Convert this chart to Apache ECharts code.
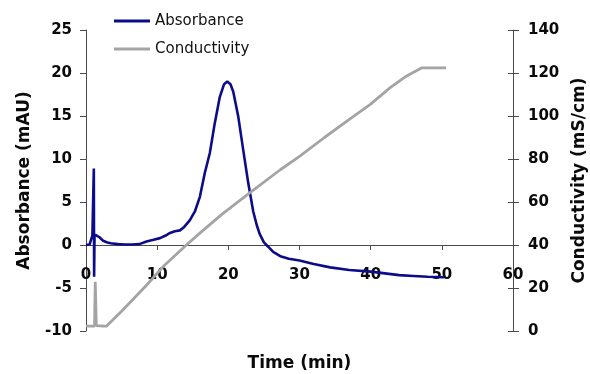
<!DOCTYPE html>
<html>
<head>
<meta charset="utf-8">
<script src="https://cdn.jsdelivr.net/npm/echarts@6/dist/echarts.min.js"></script>
<style>
html,body{margin:0;padding:0;background:#fff;}
#chart{width:590px;height:374px;}
</style>
</head>
<body>
<div id="chart"></div>
<script>
// Absorbance trace (time in min, absorbance in mAU)
var absTime = [0, 0.5, 0.7, 0.9, 1.05, 1.1, 1.14, 1.2, 1.5, 1.9, 2.4, 3.0, 3.5, 4.5, 5.5, 6.5, 7.5, 8.5, 9.5, 10.4, 11.2, 11.8, 12.5, 13.2, 13.8, 14.6, 15.3, 16.0, 16.7, 17.4, 18.1, 18.8, 19.4, 19.85, 20.3, 20.7, 21.4, 22.1, 22.8, 23.5, 24.0, 24.4, 25.0, 25.6, 26.3, 27.3, 28.5, 30, 32, 34.3, 37, 40, 42, 44, 46, 48, 50.3];
var absValue = [0, 0.05, 0.6, 1.1, 1.2, 8.9, -3.7, 1.2, 1.1, 0.9, 0.5, 0.3, 0.2, 0.1, 0.05, 0.05, 0.1, 0.4, 0.6, 0.8, 1.1, 1.4, 1.6, 1.7, 2.1, 2.9, 3.9, 5.6, 8.4, 10.7, 14.2, 17.2, 18.7, 19.0, 18.7, 17.8, 14.9, 11.0, 7.2, 3.9, 2.3, 1.3, 0.3, -0.2, -0.8, -1.3, -1.6, -1.8, -2.2, -2.6, -2.9, -3.1, -3.3, -3.5, -3.6, -3.7, -3.75];
// Conductivity trace (time in min, conductivity in mS/cm)
var condTime = [0, 1.2, 1.3, 1.45, 2.5, 2.9, 5, 8.5, 11, 14.1, 16, 19, 23, 27.3, 30.1, 33.5, 37.1, 40, 42.7, 45, 47.2, 50.6];
var condValue = [2.3, 2.3, 22.9, 2.5, 2.3, 2.3, 9.2, 21.3, 30.5, 40, 45.5, 54, 64.2, 75, 81.5, 90, 98.7, 105.5, 113.1, 118.5, 122.4, 122.4];
// Axis ticks
var xTicks = {min: 0, max: 60, interval: 10};
var absTicks = {min: -10, max: 25, interval: 5};
var condTicks = {min: 0, max: 140, interval: 20};
var seriesNames = ['Absorbance', 'Conductivity'];

function pairs(xs, ys) { return xs.map(function (x, i) { return [x, ys[i]]; }); }

var FONT = 'DejaVu Sans';
var AX = '#4a4a4a';
var TXT = '#0a0a0a';
var labelStyle = {fontFamily: FONT, fontWeight: 'bold', fontSize: 15, color: TXT};
var nameStyle = {fontFamily: FONT, fontWeight: 'bold', fontSize: 17, color: TXT};

var chart = echarts.init(document.getElementById('chart'), null, {renderer: 'canvas'});
chart.setOption({
  animation: false,
  backgroundColor: '#fff',
  grid: {left: 86, right: 77, top: 30, bottom: 43, containLabel: false, outerBoundsMode: 'none'},
  legend: {
    data: seriesNames,
    orient: 'vertical',
    left: 109, top: 8,
    icon: 'rect',
    itemWidth: 36, itemHeight: 3,
    itemGap: 12,
    textStyle: {fontFamily: FONT, fontSize: 15, color: '#111', lineHeight: 16}
  },
  xAxis: {
    type: 'value',
    min: xTicks.min, max: xTicks.max, interval: xTicks.interval,
    name: 'Time (min)', nameLocation: 'middle', nameGap: 24,
    nameTextStyle: nameStyle,
    axisLine: {show: true, onZero: true, onZeroAxisIndex: 0, lineStyle: {color: AX, width: 1}},
    axisTick: {show: true, inside: false, length: 5, lineStyle: {color: AX}},
    axisLabel: Object.assign({margin: -63}, labelStyle),
    splitLine: {show: false}
  },
  yAxis: [
    {
      type: 'value', position: 'left',
      min: absTicks.min, max: absTicks.max, interval: absTicks.interval,
      name: 'Absorbance (mAU)', nameLocation: 'middle', nameGap: 53, nameRotate: 90,
      nameTextStyle: nameStyle,
      axisLine: {show: true, onZero: false, lineStyle: {color: AX, width: 1}},
      axisTick: {show: true, inside: false, length: 6, lineStyle: {color: AX}},
      axisLabel: Object.assign({margin: 14}, labelStyle),
      splitLine: {show: false}
    },
    {
      type: 'value', position: 'right',
      min: condTicks.min, max: condTicks.max, interval: condTicks.interval,
      name: 'Conductivity (mS/cm)', nameLocation: 'middle', nameGap: 58, nameRotate: 90,
      nameTextStyle: nameStyle,
      axisLine: {show: true, onZero: false, lineStyle: {color: AX, width: 1}},
      axisTick: {show: true, inside: false, length: 6, lineStyle: {color: AX}},
      axisLabel: Object.assign({margin: 15}, labelStyle),
      splitLine: {show: false}
    },
    {
      type: 'value', position: 'right',
      min: condTicks.min, max: condTicks.max, interval: condTicks.interval,
      axisLine: {show: false, onZero: false},
      axisTick: {show: true, inside: true, length: 5, lineStyle: {color: AX}},
      axisLabel: {show: false},
      splitLine: {show: false}
    }
  ],
  series: [
    {
      name: seriesNames[0], type: 'line', yAxisIndex: 0,
      data: pairs(absTime, absValue),
      showSymbol: false, symbol: 'none',
      color: '#0c0c8a',
      lineStyle: {width: 2.6, color: '#0c0c8a'}
    },
    {
      name: seriesNames[1], type: 'line', yAxisIndex: 1,
      data: pairs(condTime, condValue),
      showSymbol: false, symbol: 'none',
      color: '#a4a4a4',
      lineStyle: {width: 2.8, color: '#a4a4a4'}
    }
  ]
});
</script>
</body>
</html>
